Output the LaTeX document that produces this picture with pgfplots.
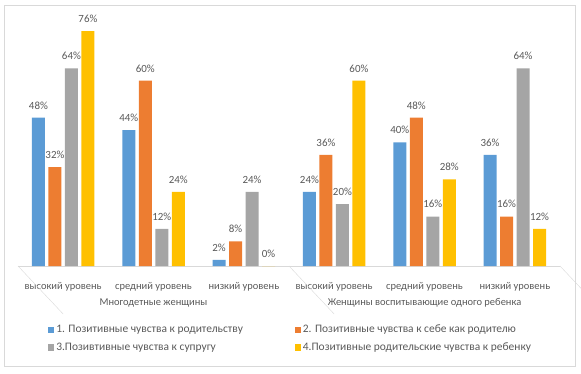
\documentclass[border=0pt]{standalone}
\usepackage{pgfplots}
\pgfplotsset{compat=1.18}
\usepackage{fontspec}
\setmainfont{Carlito}
\definecolor{c1}{HTML}{5B9BD5}
\definecolor{c2}{HTML}{ED7D31}
\definecolor{c3}{HTML}{A5A5A5}
\definecolor{c4}{HTML}{FFC000}
\definecolor{txt}{HTML}{595959}
\definecolor{grid}{HTML}{D9D9D9}
\begin{document}
\begin{tikzpicture}[x=1bp,y=-1bp]
\useasboundingbox (0,0) rectangle (581,373);
\draw[grid] (4.5,5.5) rectangle (575.5,366.5);
\begin{axis}[
  at={(18bp,-266bp)}, anchor=south west,
  scale only axis, width=542bp, height=247.2bp,
  xmin=-0.5, xmax=5.5, ymin=0, ymax=80,
  axis x line=bottom, axis y line=none,
  x axis line style={-, draw=grid},
  xtick={0,...,5}, xtick style={draw=none},
  xticklabels={высокий уровень, средний уровень, низкий уровень, высокий уровень, средний уровень, низкий уровень},
  xticklabel style={anchor=center, yshift=-16.5bp, font=\fontsize{10.5}{12}\selectfont, text=txt},
  ybar=3.5bp, bar width=13bp,
  clip=false,
  /pgf/number format/assume math mode=true,
  nodes near coords={\pgfmathprintnumber{\pgfplotspointmeta}\%},
  every node near coord/.append style={font=\fontsize{11}{12}\selectfont, text=txt, yshift=5bp},
  legend columns=2,
  legend style={at={(0.05,-0.222)}, anchor=north west, draw=none, fill=none,
    font=\fontsize{11.5}{13}\selectfont, text=txt, cells={anchor=west}, row sep=4.5bp,
    /tikz/every even column/.append style={column sep=50bp}},
  legend image code/.code={\fill[#1] (0bp,-3bp) rectangle (6bp,3bp);},
]
\addplot[fill=c1, draw=none] coordinates {(0,48) (1,44) (2,2) (3,24) (4,40) (5,36)};
\addplot[fill=c2, draw=none] coordinates {(0,32) (1,60) (2,8) (3,36) (4,48) (5,16)};
\addplot[fill=c3, draw=none] coordinates {(0,64) (1,12) (2,24) (3,20) (4,16) (5,64)};
\addplot[fill=c4, draw=none] coordinates {(0,76) (1,24) (2,0) (3,60) (4,28) (5,12)};
\legend{1. Позитивные чувства к родительству, 2. Позитивные чувства к себе как родителю, 3.Позивтивные чувства к супругу, 4.Позитивные родительские чувства к ребенку}
\draw[grid] (axis cs:-0.5,0) -- ++(0,-48bp);
\draw[grid] (axis cs:2.5,0) -- ++(0,-48bp);
\draw[grid] (axis cs:5.5,0) -- ++(0,-48bp);
\node[text=txt, font=\fontsize{10.5}{12}\selectfont] at ([yshift=-37bp]axis cs:1,0) {Многодетные женщины};
\node[text=txt, font=\fontsize{10.5}{12}\selectfont] at ([yshift=-37bp]axis cs:4,0) {Женщины воспитывающие одного ребенка};
\end{axis}
\end{tikzpicture}
\end{document}
